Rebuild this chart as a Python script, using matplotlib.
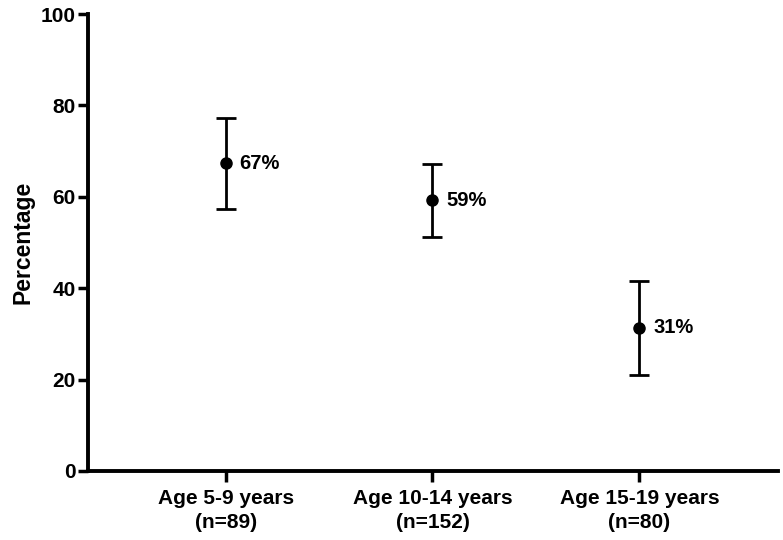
import matplotlib.pyplot as plt

plt.rcParams['font.family'] = ['Liberation Sans', 'DejaVu Sans']
plt.rcParams['font.weight'] = 'bold'

# data
groups = ['Age 5-9 years\n(n=89)', 'Age 10-14 years\n(n=152)', 'Age 15-19 years\n(n=80)']
pct = [67.3, 59.2, 31.3]
lower = [57.4, 51.3, 20.9]
upper = [77.3, 67.1, 41.6]
labels = ['67%', '59%', '31%']

x = list(range(len(groups)))
err_lo = [p - l for p, l in zip(pct, lower)]
err_hi = [u - p for p, u in zip(pct, upper)]

fig = plt.figure(figsize=(7.83, 5.4), dpi=100)
ax = fig.add_axes([0.1124, 0.128, 0.8812, 0.846])

ax.errorbar(x, pct, yerr=[err_lo, err_hi], fmt='o', color='black',
            markersize=8, elinewidth=2, capsize=7, capthick=2)

for xi, yi, lab in zip(x, pct, labels):
    ax.annotate(lab, (xi, yi), xytext=(10, 0), textcoords='offset points',
                va='center', ha='left', fontsize=14.5, fontweight='bold')

ax.set_xlim(-0.665, 2.67)
ax.set_ylim(0, 100)
ax.set_yticks([0, 20, 40, 60, 80, 100])
ax.set_xticks(x)
ax.set_xticklabels(groups, fontsize=15, fontweight='bold', linespacing=1.35)
ax.tick_params(axis='y', labelsize=15, width=2.5, length=7, pad=2)
ax.tick_params(axis='x', width=2.5, length=8, pad=5)
for lab in ax.get_yticklabels():
    lab.set_fontweight('bold')

ax.set_ylabel('Percentage', fontsize=16.5, fontweight='bold', labelpad=4)

for side in ['top', 'right']:
    ax.spines[side].set_visible(False)
for side in ['left', 'bottom']:
    ax.spines[side].set_linewidth(2.8)

fig.savefig('out.png', dpi=100)
